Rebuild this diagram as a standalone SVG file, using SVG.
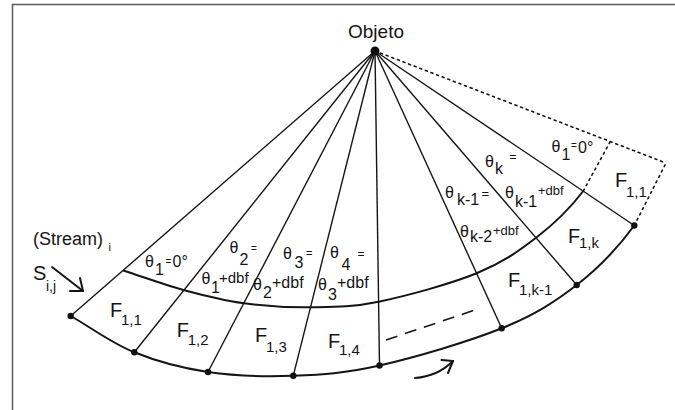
<svg xmlns="http://www.w3.org/2000/svg" width="675" height="410" viewBox="0 0 675 410">
<style>
.t{font-family:"Liberation Sans",Arial,sans-serif;fill:#151515}
.ray{stroke:#151515;stroke-width:1.4;fill:none}
.arc{stroke:#151515;stroke-width:2;fill:none}
.dot{stroke:#151515;stroke-width:1.6;stroke-dasharray:2 4;fill:none;stroke-linecap:round}
.ar{stroke:#151515;stroke-width:2;fill:none;stroke-linecap:round;stroke-linejoin:round}
.pt{fill:#111}
</style>
<rect x="0" y="0" width="675" height="410" fill="#fff"/>
<path d="M12.5 410 V4.5 H675" fill="none" stroke="#5a5a5a" stroke-width="1.5"/>

<g id="connectors">
  <g id="rays">
    <line class="ray" x1="375" y1="51" x2="70.7" y2="316"/>
    <line class="ray" x1="375" y1="51" x2="134.3" y2="352.3"/>
    <line class="ray" x1="375" y1="51" x2="208" y2="372"/>
    <line class="ray" x1="375" y1="51" x2="293.3" y2="375.7"/>
    <line class="ray" x1="375" y1="51" x2="379.5" y2="365.5"/>
    <line class="ray" x1="375" y1="51" x2="501.7" y2="328.3"/>
    <line class="ray" x1="375" y1="51" x2="576.7" y2="285"/>
    <line class="ray" x1="375" y1="51" x2="634.3" y2="225.5"/>
    <line class="dot" x1="375" y1="51" x2="666" y2="163"/>
  </g>
  <path id="outer-arc" class="arc" d="M70.7 316 C91.9 328.1 111.4 343 134.3 352.3 C157.2 361.6 181.5 368.1 208 372 C234.5 375.9 264.7 376.8 293.3 375.7 C321.9 374.6 344.8 373.4 379.5 365.5 C414.2 357.6 468.8 341.7 501.7 328.3 C534.6 314.9 554.6 302.1 576.7 285 C598.8 267.9 619.4 245.8 634.3 225.5"/>
  <path id="inner-arc" class="arc" d="M123.3 270.5 C143.4 277 163.4 284.5 183.5 290 C203.6 295.5 222.75 300.4 244 303.3 C265.25 306.2 288.55 307.6 311 307.3 C333.45 307 351.1 307.4 378.7 301.7 C406.3 296 450.4 284 476.7 273.3 C503 262.6 518.9 251 536.7 237.3 C554.5 223.6 571.1 206.9 583.3 191"/>
  <line class="dot" x1="634.3" y1="225.5" x2="666" y2="163"/>
  <line class="dot" x1="583.3" y1="191" x2="610" y2="142"/>
  <line id="dashes" x1="386" y1="340" x2="475" y2="310" stroke="#151515" stroke-width="1.6" stroke-dasharray="12 8"/>
  <g id="arrow-s">
    <line class="ar" x1="52" y1="267" x2="83" y2="291"/>
    <polyline class="ar" points="70,291 83,291 80,278"/>
  </g>
  <g id="arrow-rot">
    <path class="ar" d="M415 378 C429 377 443 371 453 361"/>
    <polyline class="ar" points="441.5,360 453,361 448,373"/>
  </g>
</g>

<g id="points">
  <circle class="pt" cx="375" cy="51" r="4.5"/>
  <circle class="pt" cx="70.7" cy="316" r="3.2"/>
  <circle class="pt" cx="134.3" cy="352.3" r="3.2"/>
  <circle class="pt" cx="208" cy="372" r="3.2"/>
  <circle class="pt" cx="293.3" cy="375.7" r="3.2"/>
  <circle class="pt" cx="379.5" cy="365.5" r="3.2"/>
  <circle class="pt" cx="501.7" cy="328.3" r="3.2"/>
  <circle class="pt" cx="576.7" cy="285" r="3.2"/>
  <circle class="pt" cx="634.3" cy="225.5" r="3.2"/>
</g>

<g id="objeto"><text class="t" x="376" y="38" font-size="19" text-anchor="middle">Objeto</text></g>

<g id="stream">
  <text class="t" x="33" y="245" font-size="18">(Stream)</text>
  <text class="t" x="108.5" y="251" font-size="11">i</text>
  <text class="t" x="33" y="280" font-size="20">S</text>
  <text class="t" x="46" y="291" font-size="14">i,j</text>
</g>

<g id="theta1" class="t" font-size="16">
  <text x="145" y="267">θ</text>
  <text x="155" y="275">1</text>
  <text x="165.5" y="265" font-size="10">=</text>
  <text x="172.5" y="267">0°</text>
</g>
<g id="theta2" class="t" font-size="16">
  <text x="229.5" y="253">θ</text>
  <text x="239.5" y="265">2</text>
  <text x="251" y="252" font-size="10">=</text>
  <text x="201.5" y="283.5">θ</text>
  <text x="211" y="293">1</text>
  <text x="219" y="283" font-size="15">+dbf</text>
</g>
<g id="theta3" class="t" font-size="16">
  <text x="283" y="258.5">θ</text>
  <text x="294.5" y="268">3</text>
  <text x="306" y="257" font-size="11">=</text>
  <text x="253" y="290">θ</text>
  <text x="263" y="298">2</text>
  <text x="272" y="288">+dbf</text>
</g>
<g id="theta4" class="t" font-size="16">
  <text x="330" y="258">θ</text>
  <text x="341.5" y="270">4</text>
  <text x="357.5" y="257.5" font-size="12">=</text>
  <text x="318" y="290">θ</text>
  <text x="328" y="300">3</text>
  <text x="337" y="288">+dbf</text>
</g>
<g id="thetak" class="t" font-size="16">
  <text x="485" y="167">θ</text>
  <text x="495" y="173.5">k</text>
  <text x="509.5" y="160.5" font-size="12">=</text>
  <text x="505" y="198">θ</text>
  <text x="515" y="207">k-1</text>
  <text x="538" y="195" font-size="13">+dbf</text>
</g>
<g id="thetak1" class="t" font-size="16">
  <text x="445" y="198">θ</text>
  <text x="457" y="205">k-1</text>
  <text x="481.5" y="197.5" font-size="13">=</text>
  <text x="460" y="237">θ</text>
  <text x="470" y="242">k-2</text>
  <text x="493" y="235" font-size="13">+dbf</text>
</g>
<g id="theta1-right" class="t" font-size="16">
  <text x="551.5" y="152">θ</text>
  <text x="561.5" y="160">1</text>
  <text x="571" y="149" font-size="10">=</text>
  <text x="578" y="153">0°</text>
</g>

<g id="f11" class="t"><text x="110" y="316.7" font-size="20">F</text><text x="121" y="325" font-size="15">1,1</text></g>
<g id="f12" class="t"><text x="176.7" y="336.7" font-size="20">F</text><text x="187.7" y="345" font-size="15">1,2</text></g>
<g id="f13" class="t"><text x="255" y="341.7" font-size="20">F</text><text x="266" y="351.7" font-size="15">1,3</text></g>
<g id="f14" class="t"><text x="328" y="348" font-size="20">F</text><text x="339" y="355" font-size="15">1,4</text></g>
<g id="f1k1" class="t"><text x="508" y="286.7" font-size="20">F</text><text x="519" y="295" font-size="15">1,k-1</text></g>
<g id="f1k" class="t"><text x="568" y="243" font-size="20">F</text><text x="579" y="248" font-size="15">1,k</text></g>
<g id="f11-right" class="t"><text x="615" y="186.7" font-size="20">F</text><text x="626" y="197" font-size="15">1,1</text></g>
</svg>
